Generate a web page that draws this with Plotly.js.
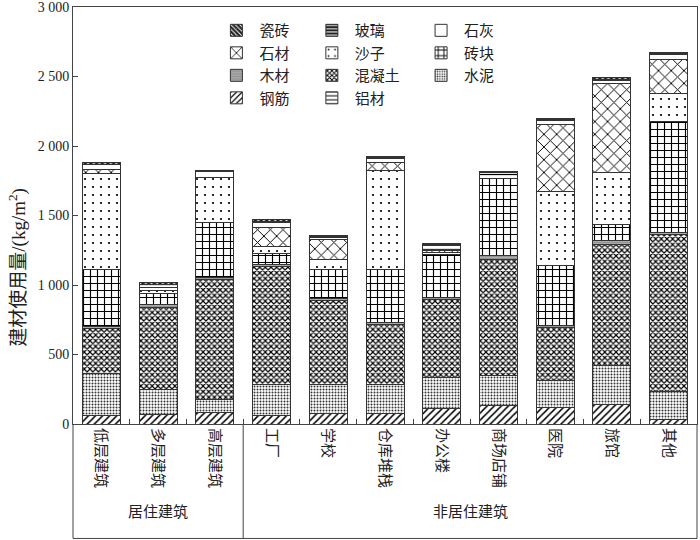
<!DOCTYPE html>
<html><head><meta charset="utf-8">
<script src="https://cdn.plot.ly/plotly-3.0.1.min.js"></script>
<style>html,body{margin:0;padding:0;background:#fff}#chart{width:700px;height:540px}</style>
</head><body><div id="chart"></div>
<script>
const categories = ['低层建筑','多层建筑','高层建筑','工厂','学校','仓库堆栈','办公楼','商场店铺','医院','旅馆','其他'];
const groupLabels = ['居住建筑','非居住建筑'];
const yTickVals = [0, 500, 1000, 1500, 2000, 2500, 3000];
const yTickText = ['0', '500', '1 000', '1 500', '2 000', '2 500', '3 000'];
// stacked bottom -> top
const gangjin  = [60, 70, 85, 62, 75, 76, 115, 133, 122, 140, 35];   // 钢筋
const shuini   = [300, 180, 92, 220, 208, 208, 222, 213, 188, 278, 200]; // 水泥
const hunningtu= [330, 590, 863, 854, 606, 430, 556, 840, 385, 875, 1130]; // 混凝土
const mucai    = [10, 22, 15, 10, 12, 14, 18, 24, 12, 29, 12];  // 木材
const zhuankuai= [410, 75, 393, 80, 210, 386, 311, 556, 431, 115, 800]; // 砖块
const shazi    = [690, 25, 322, 53, 71, 710, 15, 0, 537, 374, 204]; // 沙子
const shicai   = [33, 0, 0, 138, 143, 55, 10, 0, 482, 637, 243]; // 石材
const shihui   = [32, 20, 43, 36, 20, 33, 10, 0, 24, 25, 32]; // 石灰
const lvcai    = [0, 20, 0, 0, 0, 0, 25, 40, 0, 0, 0]; // 铝材
const boli     = [5, 5, 5, 7, 6, 6, 6, 5, 7, 8, 6]; // 玻璃
const cizhuan  = [10, 8, 7, 10, 6, 9, 8, 7, 10, 12, 10]; // 瓷砖

const FONT = 'Liberation Serif, Noto Sans CJK SC, serif';

function mk(name, y, pat, legend, rank, bg) {
  const p = Object.assign({}, pat);
  if (bg) p.bgcolor = bg;
  return {
    type: 'bar', name: name, x: categories, y: y,
    legend: legend, legendrank: rank, legendgroup: name,
    marker: {
      color: bg || '#ffffff',
      line: {color: '#333', width: 1},
      pattern: p
    },
    width: 0.67,
    hoverinfo: 'name+y'
  };
}

const traces = [
  mk('钢筋', gangjin, {shape: '/', size: 5, solidity: 0.3, fgcolor: '#000'}, 'legend', 4),
  mk('水泥', shuini, {shape: '.', size: 3, solidity: 0.35, fgcolor: '#333'}, 'legend3', 3),
  mk('混凝土', hunningtu, {shape: 'x', size: 4, solidity: 0.5, fgcolor: '#000'}, 'legend2', 3),
  mk('木材', mucai, {shape: '.', size: 2, solidity: 0.6, fgcolor: '#444'}, 'legend', 3),
  mk('砖块', zhuankuai, {shape: '+', size: 7, solidity: 0.3, fgcolor: '#000'}, 'legend3', 2),
  mk('沙子', shazi, {shape: '.', size: 8, solidity: 0.06, fgcolor: '#000'}, 'legend2', 2),
  mk('石材', shicai, {shape: 'x', size: 9, solidity: 0.2, fgcolor: '#000'}, 'legend', 2),
  mk('石灰', shihui, {shape: '', fgcolor: '#000'}, 'legend3', 1),
  mk('铝材', lvcai, {shape: '-', size: 5, solidity: 0.25, fgcolor: '#000'}, 'legend2', 4),
  mk('玻璃', boli, {shape: '-', size: 4, solidity: 0.3, fgcolor: '#fff'}, 'legend2', 1, '#222'),
  mk('瓷砖', cizhuan, {shape: '\\', size: 4, solidity: 0.3, fgcolor: '#fff'}, 'legend', 1, '#222')
];

const lg = (x) => ({
  x: x, y: 0.983, xanchor: 'left', yanchor: 'top',
  bgcolor: 'rgba(0,0,0,0)', borderwidth: 0,
  traceorder: 'normal', itemclick: false, itemdoubleclick: false,
  font: {family: FONT, size: 15, color: '#222'},
  tracegroupgap: 5.5, itemwidth: 36
});

const yb = -0.2745;
const layout = {
  width: 700, height: 540,
  margin: {l: 73, r: 3, t: 7, b: 116},
  paper_bgcolor: '#fff', plot_bgcolor: '#fff',
  barmode: 'stack', bargap: 0.33,
  font: {family: FONT, size: 14, color: '#222'},
  showlegend: true,
  legend: lg(0.225),
  legend2: lg(0.378),
  legend3: lg(0.553),
  xaxis: {
    type: 'category', showline: true, linecolor: '#444', linewidth: 1, mirror: true,
    ticks: 'inside', tickson: 'boundaries', ticklen: 5, tickcolor: '#444',
    tickangle: 90, tickfont: {family: FONT, size: 15, color: '#222'},
    showgrid: false, zeroline: false
  },
  yaxis: {
    range: [0, 3000], tickmode: 'array', tickvals: yTickVals, ticktext: yTickText,
    ticklabeloverflow: 'allow',
    showline: true, linecolor: '#444', linewidth: 1, mirror: true,
    ticks: 'inside', ticklen: 5, tickcolor: '#444',
    tickfont: {family: FONT, size: 14, color: '#222'},
    showgrid: false, zeroline: false
  },
  shapes: [
    {type: 'line', xref: 'paper', yref: 'paper', x0: 0, x1: 0, y0: 0, y1: yb, line: {color: '#444', width: 1}},
    {type: 'line', xref: 'paper', yref: 'paper', x0: 1, x1: 1, y0: 0, y1: yb, line: {color: '#444', width: 1}},
    {type: 'line', xref: 'paper', yref: 'paper', x0: 0, x1: 1, y0: yb, y1: yb, line: {color: '#444', width: 1}},
    {type: 'line', xref: 'x', yref: 'paper', x0: 2.5, x1: 2.5, y0: 0, y1: yb, line: {color: '#444', width: 1}}
  ],
  annotations: [
    {xref: 'x', yref: 'paper', x: 1, y: -0.234, text: groupLabels[0], showarrow: false,
     font: {family: FONT, size: 15, color: '#222'}},
    {xref: 'x', yref: 'paper', x: 6.5, y: -0.234, text: groupLabels[1], showarrow: false,
     font: {family: FONT, size: 15, color: '#222'}},
    {xref: 'paper', yref: 'paper', x: -0.088, y: 0.375, xanchor: 'center', yanchor: 'middle',
     text: '建材使用量/(kg/m<sup>2</sup>)',
     textangle: -90, showarrow: false, font: {family: FONT, size: 19, color: '#222'}}
  ]
};

Plotly.newPlot('chart', traces, layout, {displayModeBar: false, staticPlot: true});
</script></body></html>
